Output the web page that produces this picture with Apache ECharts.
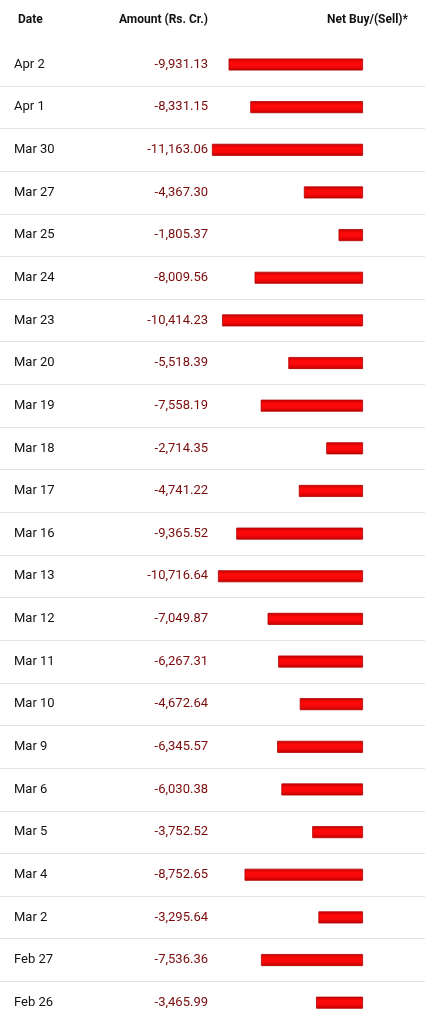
<!DOCTYPE html>
<html>
<head>
<meta charset="utf-8">
<script src="https://cdn.jsdelivr.net/npm/echarts@6/dist/echarts.min.js"></script>
<style>html,body{margin:0;padding:0;background:#fff}#c{width:425px;height:1024px}</style>
</head>
<body>
<div id="c"></div>
<script>
const dates = ["Apr 2","Apr 1","Mar 30","Mar 27","Mar 25","Mar 24","Mar 23","Mar 20","Mar 19","Mar 18","Mar 17","Mar 16","Mar 13","Mar 12","Mar 11","Mar 10","Mar 9","Mar 6","Mar 5","Mar 4","Mar 2","Feb 27","Feb 26"];
const amounts = [-9931.13,-8331.15,-11163.06,-4367.30,-1805.37,-8009.56,-10414.23,-5518.39,-7558.19,-2714.35,-4741.22,-9365.52,-10716.64,-7049.87,-6267.31,-4672.64,-6345.57,-6030.38,-3752.52,-8752.65,-3295.64,-7536.36,-3465.99];
const headers = ["Date","Amount (Rs. Cr.)","Net Buy/(Sell)*"];

const fmt = v => v.toLocaleString('en-US',{minimumFractionDigits:2,maximumFractionDigits:2});
const chart = echarts.init(document.getElementById('c'), null, {renderer:'canvas'});
const FONT = 'Roboto';
const gridTop = 43.2, gridH = 982.8;
const hdrStyle = {fontFamily:FONT,fontSize:12,fontWeight:'bold',color:'#111'};
chart.setOption({
  animation:false,
  backgroundColor:'#fff',
  title:[
    {text:headers[0],left:18,top:14,padding:0,textStyle:hdrStyle},
    {text:headers[1],right:217,top:14,padding:0,textStyle:hdrStyle},
    {text:headers[2],right:17,top:14,padding:0,textStyle:hdrStyle}
  ],
  grid:[
    {left:0,right:0,top:gridTop,height:gridH},
    {left:200.6,width:162.4,top:gridTop,height:gridH}
  ],
  xAxis:[
    {gridIndex:0,type:'value',show:false,min:0,max:1},
    {gridIndex:1,type:'value',show:false,min:-12000,max:0}
  ],
  yAxis:[
    {gridIndex:0,type:'category',inverse:true,data:dates,
     axisLine:{show:false},axisTick:{show:false},
     splitLine:{show:true,showMinLine:false,showMaxLine:false,lineStyle:{color:'#e2e2e2',width:1}},
     axisLabel:{inside:true,margin:14,align:'left',
       formatter:(v,i)=>'{d|'+v+'}{a|'+fmt(amounts[i])+'}',
       rich:{
         d:{fontFamily:FONT,fontSize:13,color:'#111',width:106,align:'left'},
         a:{fontFamily:FONT,fontSize:13,color:'#7a0a0a',width:88,align:'right'}
       }}
    },
    {gridIndex:1,type:'category',inverse:true,data:dates,show:false}
  ],
  series:[
    {type:'bar',xAxisIndex:1,yAxisIndex:1,data:amounts,barWidth:12,
     itemStyle:{
       color:new echarts.graphic.LinearGradient(0,0,0,1,[
         {offset:0,color:'#c80000'},{offset:0.35,color:'#ff0a0a'},
         {offset:0.65,color:'#f80808'},{offset:1,color:'#c00000'}]),
       borderColor:'#b00000',borderWidth:0.8
     }}
  ]
});
</script>
</body>
</html>
